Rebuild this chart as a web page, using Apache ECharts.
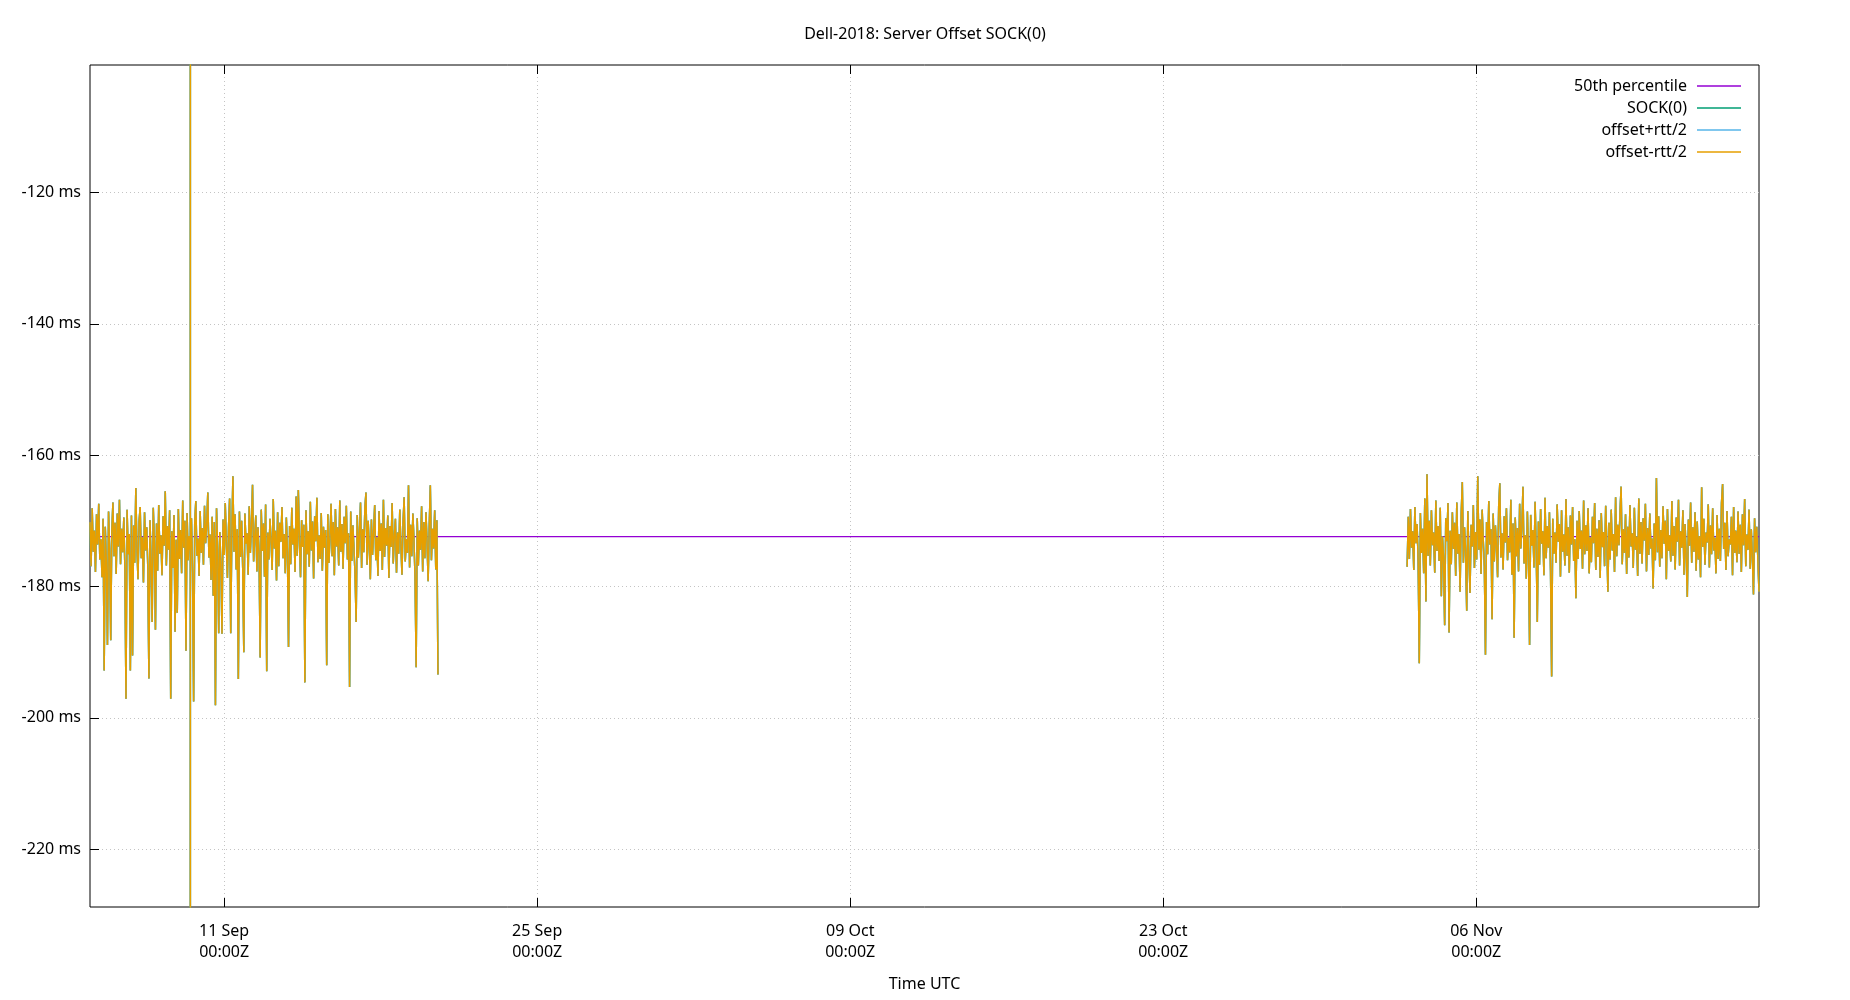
<!DOCTYPE html>
<html><head><meta charset="utf-8">
<script src="https://cdn.jsdelivr.net/npm/echarts@6/dist/echarts.min.js"></script>
<style>html,body{margin:0;padding:0;background:#fff}#c{width:1850px;height:1000px}</style>
</head><body><div id="c"></div>
<script>
// ---- axis ranges / ticks ----
const X_MIN = Date.UTC(2018, 8, 5, 0, 0);
const X_MAX = Date.UTC(2018, 10, 18, 15, 30);
const Y_MIN = -228.8;
const Y_MAX = -100.6;
const xTickDates = [Date.UTC(2018,8,11), Date.UTC(2018,8,25), Date.UTC(2018,9,9), Date.UTC(2018,9,23), Date.UTC(2018,10,6)];
const yTicks = [-220, -200, -180, -160, -140, -120];
const MONTHS = ['Jan','Feb','Mar','Apr','May','Jun','Jul','Aug','Sep','Oct','Nov','Dec'];

// ---- data segments (ms) ----
const LEFT_START = Date.UTC(2018, 8, 5, 0, 0);
const LEFT_END = Date.UTC(2018, 8, 20, 13, 30);
const RIGHT_START = Date.UTC(2018, 10, 2, 21, 50);
const RIGHT_END = Date.UTC(2018, 10, 18, 15, 30);
const SPIKE_INDEX = 92;

const seriesNames = ['50th percentile', 'SOCK(0)', 'offset+rtt/2', 'offset-rtt/2'];
const percentile50 = -172.4;

// SOCK(0) is a reference clock: rtt is 0, so offset, offset+rtt/2 and offset-rtt/2 coincide.
const leftOffset = [
-170.2,-176.9,-168.1,-174.7,-171.5,-177.8,-169.0,-173.6,-167.4,-175.9,-172.8,-178.6,-169.7,-192.8,-170.9,-176.3,-188.9,-168.6,-174.2,-188.2,
-171.8,-167.2,-175.4,-170.3,-178.1,-168.9,-173.9,-166.8,-176.6,-171.2,-174.8,-169.5,-177.3,-197.1,-168.3,-175.1,-172.0,-192.8,-169.2,-190.5,
-170.7,-176.4,-165.0,-174.0,-178.9,-170.1,-167.9,-175.7,-172.5,-179.4,-168.7,-174.5,-171.0,-177.0,-194.0,-169.9,-176.1,-185.4,-168.0,-173.3,
-186.6,-170.4,-177.6,-167.6,-175.0,-172.2,-178.3,-169.3,-173.8,-165.5,-176.8,-170.8,-174.4,-168.4,-197.1,-171.6,-177.2,-169.1,-186.9,-172.9,
-184.0,-168.2,-175.8,-171.4,-178.0,-166.9,-174.1,-170.0,-189.8,-168.8,-176.0,-172.3,-174.6,-169.6,-177.9,-197.5,-170.5,-167.0,-175.3,-172.7,
-178.4,-168.5,-174.9,-171.1,-176.7,-167.7,-173.4,-170.6,-165.7,-175.6,-172.1,-179.0,-169.4,-181.4,-170.2,-198.1,-168.1,-174.3,-187.1,-171.7,
-176.5,-187.2,-169.8,-175.2,-167.3,-173.7,-178.7,-170.9,-166.6,-187.1,-172.4,-163.2,-174.7,-169.0,-177.4,-171.3,-194.1,-168.6,-175.5,-170.0,
-177.1,-190.0,-168.9,-173.5,-171.9,-178.2,-167.8,-174.9,-170.7,-164.5,-176.2,-172.6,-169.2,-177.7,-171.0,-175.0,-190.8,-168.3,-174.6,-170.4,
-178.5,-167.5,-192.9,-171.8,-175.9,-169.7,-173.0,-177.5,-166.7,-174.2,-171.5,-179.1,-168.7,-176.9,-170.3,-173.2,-167.9,-175.7,-172.0,-178.0,
-169.5,-174.8,-189.2,-170.8,-176.6,-168.0,-173.6,-171.2,-177.8,-166.3,-175.3,-165.3,-172.9,-178.6,-169.9,-174.0,-170.6,-194.6,-168.4,-175.1,
-171.6,-177.0,-167.1,-174.5,-170.1,-178.8,-169.3,-173.1,-166.5,-176.3,-172.2,-175.8,-168.8,-177.6,-170.9,-174.1,-171.4,-192.0,-169.0,-176.4,
-172.7,-167.4,-175.4,-170.2,-178.3,-168.2,-173.9,-171.0,-176.8,-166.9,-174.7,-170.5,-177.3,-169.4,-173.4,-167.7,-175.9,-171.9,-195.3,-168.6,
-176.1,-170.7,-174.3,-178.1,-185.4,-169.1,-175.6,-172.1,-167.2,-177.2,-171.3,-174.8,-168.1,-165.7,-176.7,-170.0,-173.7,-178.9,-169.8,-175.2,
-171.7,-167.6,-176.0,-172.5,-178.4,-168.5,-174.6,-170.4,-177.5,-166.8,-175.5,-171.1,-173.8,-169.2,-178.7,-170.8,-174.0,-167.3,-176.5,-172.3,
-169.7,-177.9,-171.8,-175.0,-168.3,-173.5,-178.2,-170.3,-166.4,-176.2,-172.8,-174.9,-164.6,-177.1,-170.6,-175.4,-168.9,-173.0,-178.6,-192.3,
-169.6,-176.8,-171.5,-174.4,-167.8,-177.7,-170.2,-175.7,-168.7,-173.3,-179.2,-170.9,-164.6,-176.0,-171.2,-174.2,-168.4,-177.4,-169.9,-193.4];

const rightOffset = [
-177.0,-169.4,-175.8,-168.2,-174.1,-171.6,-177.5,-167.9,-173.4,-170.5,-176.3,-191.7,-168.8,-174.9,-171.2,-178.0,-166.6,-182.3,-162.9,-175.3,
-170.0,-176.8,-168.4,-173.7,-171.8,-177.9,-166.9,-174.6,-170.8,-176.1,-168.0,-181.5,-172.4,-175.7,-185.9,-169.6,-173.1,-167.3,-187.0,-171.5,
-176.6,-168.7,-174.3,-170.3,-178.4,-167.2,-175.0,-172.0,-180.8,-169.0,-164.1,-176.4,-171.0,-174.7,-183.7,-168.5,-175.5,-181.0,-170.6,-173.9,
-167.6,-177.2,-171.7,-175.9,-163.2,-174.4,-169.8,-178.1,-168.3,-173.0,-176.9,-190.4,-170.2,-175.1,-167.0,-173.6,-171.3,-185.0,-168.9,-176.2,
-170.7,-174.0,-178.6,-167.8,-164.3,-175.6,-171.9,-177.4,-169.3,-173.3,-168.1,-176.0,-172.6,-174.8,-166.8,-178.2,-170.4,-187.8,-169.5,-175.4,
-171.1,-177.7,-167.4,-174.2,-170.9,-164.8,-176.5,-172.2,-178.8,-168.6,-175.2,-188.9,-169.1,-173.8,-171.4,-177.1,-167.1,-174.5,-185.4,-170.1,
-176.7,-168.2,-173.5,-171.6,-178.3,-166.5,-175.7,-170.8,-174.1,-168.7,-177.6,-193.7,-169.7,-175.0,-171.8,-176.4,-167.5,-173.2,-170.5,-178.5,
-168.4,-174.7,-172.1,-176.8,-166.7,-175.3,-171.0,-177.9,-169.2,-173.6,-167.9,-176.1,-172.8,-181.8,-170.0,-175.8,-168.5,-174.3,-171.5,-177.3,
-166.9,-175.1,-170.7,-174.6,-168.1,-178.0,-172.5,-176.3,-169.4,-173.4,-167.3,-177.5,-171.2,-175.5,-169.9,-178.7,-168.8,-174.0,-171.7,-176.9,
-167.7,-173.1,-180.8,-170.3,-175.9,-168.3,-174.5,-172.0,-177.8,-166.4,-175.4,-170.6,-173.7,-168.6,-164.8,-176.6,-171.3,-174.9,-169.0,-178.1,
-170.9,-175.6,-167.6,-173.9,-171.9,-177.2,-168.0,-174.4,-172.4,-178.4,-166.6,-175.0,-170.2,-176.5,-169.6,-173.0,-167.4,-177.7,-171.1,-175.2,
-168.9,-174.2,-172.7,-180.3,-170.4,-176.0,-163.5,-174.8,-169.3,-177.0,-171.4,-175.7,-167.8,-173.5,-170.0,-178.9,-168.2,-174.6,-172.2,-176.2,
-167.0,-175.3,-170.8,-177.4,-169.5,-173.2,-166.8,-176.8,-171.6,-174.1,-168.4,-178.2,-170.5,-175.5,-181.6,-169.8,-173.8,-167.2,-176.4,-171.0,
-174.7,-168.7,-177.6,-170.1,-175.9,-172.3,-178.6,-164.9,-174.0,-169.7,-176.7,-171.8,-173.3,-167.5,-177.1,-170.7,-175.1,-168.1,-174.5,-172.6,
-178.0,-169.1,-175.8,-171.2,-176.1,-167.3,-164.4,-174.3,-170.3,-177.5,-168.5,-175.4,-172.8,-173.6,-169.4,-178.3,-167.9,-174.9,-171.5,-176.3,
-168.6,-175.0,-170.6,-177.8,-169.0,-173.7,-166.7,-176.9,-172.1,-174.4,-168.3,-177.3,-171.3,-175.6,-181.2,-169.6,-174.8,-170.9,-176.0,-180.8];

// spike (up, down) reached right after SPIKE_INDEX
const spikeValues = [-95, -240];

function build(left, right, spike) {
  const out = [];
  const ls = (LEFT_END - LEFT_START) / (left.length - 1);
  left.forEach((v, i) => {
    const t = LEFT_START + i * ls;
    out.push([t, v]);
    if (i === SPIKE_INDEX) { out.push([t, spike[0]], [t, spike[1]], [t, v]); }
  });
  out.push([(LEFT_END + RIGHT_START) / 2, null]);
  const rs = (RIGHT_END - RIGHT_START) / (right.length - 1);
  right.forEach((v, i) => out.push([RIGHT_START + i * rs, v]));
  return out;
}

const FONT = '"Noto Sans", "Open Sans", sans-serif';
const fmtX = v => {
  const d = new Date(v);
  const p = n => String(n).padStart(2, '0');
  return p(d.getUTCDate()) + ' ' + MONTHS[d.getUTCMonth()] + '\n' + p(d.getUTCHours()) + ':' + p(d.getUTCMinutes()) + 'Z';
};
const gridLine = { show: true, lineStyle: { color: '#c4c4c4', width: 1, type: [1, 3] } };
const tickStyle = { color: '#000', width: 1 };
const offsetData = build(leftOffset, rightOffset, spikeValues);

const dataSeries = (name, color, width) => ({
  name, type: 'line', symbol: 'none', showSymbol: false, connectNulls: false, color,
  lineStyle: { width, color }, data: offsetData
});

const chart = echarts.init(document.getElementById('c'), null, { renderer: 'canvas' });
chart.setOption({
  animation: false,
  backgroundColor: '#fff',
  textStyle: { fontFamily: FONT },
  title: {
    text: 'Dell-2018: Server Offset SOCK(0)',
    left: 'center', top: 21,
    textStyle: { fontFamily: FONT, fontSize: 16, fontWeight: 'normal', color: '#000' }
  },
  legend: {
    orient: 'vertical', right: 109, top: 78, padding: 0,
    align: 'right', icon: 'rect', itemWidth: 44, itemHeight: 1.5, itemGap: 6,
    data: seriesNames,
    textStyle: { fontFamily: FONT, fontSize: 16, color: '#000', padding: [0, 5, 0, 0] }
  },
  grid: { left: 90, right: 91, top: 65, bottom: 93, show: true, borderColor: '#000', borderWidth: 1, containLabel: false },
  xAxis: [{
    type: 'value', min: X_MIN, max: X_MAX,
    name: 'Time UTC', nameLocation: 'middle', nameGap: 69,
    nameTextStyle: { fontFamily: FONT, fontSize: 16, color: '#000' },
    axisLine: { show: false },
    axisTick: { show: true, inside: true, length: 9, customValues: xTickDates, lineStyle: tickStyle },
    axisLabel: { customValues: xTickDates, formatter: fmtX, margin: 14, fontFamily: FONT, fontSize: 16, lineHeight: 21, color: '#000' },
    splitLine: gridLine
  }, {
    type: 'value', min: X_MIN, max: X_MAX, position: 'top',
    axisLine: { show: false },
    axisTick: { show: true, inside: true, length: 9, customValues: xTickDates, lineStyle: tickStyle },
    axisLabel: { show: false, customValues: xTickDates },
    splitLine: { show: false }
  }],
  yAxis: {
    type: 'value', min: Y_MIN, max: Y_MAX,
    axisLine: { show: false },
    axisTick: { show: true, inside: true, length: 9, customValues: yTicks, lineStyle: tickStyle },
    axisLabel: { customValues: yTicks, formatter: v => v + ' ms', margin: 9, fontFamily: FONT, fontSize: 16, color: '#000' },
    splitLine: gridLine
  },
  series: [
    { name: seriesNames[0], type: 'line', symbol: 'none', showSymbol: false, color: '#9400d3',
      lineStyle: { width: 1.3, color: '#9400d3' },
      data: [[X_MIN, percentile50], [X_MAX, percentile50]] },
    dataSeries(seriesNames[1], '#009e73', 1.5),
    dataSeries(seriesNames[2], '#56b4e9', 1.5),
    dataSeries(seriesNames[3], '#e69f00', 1.5)
  ]
});
</script>
</body></html>
